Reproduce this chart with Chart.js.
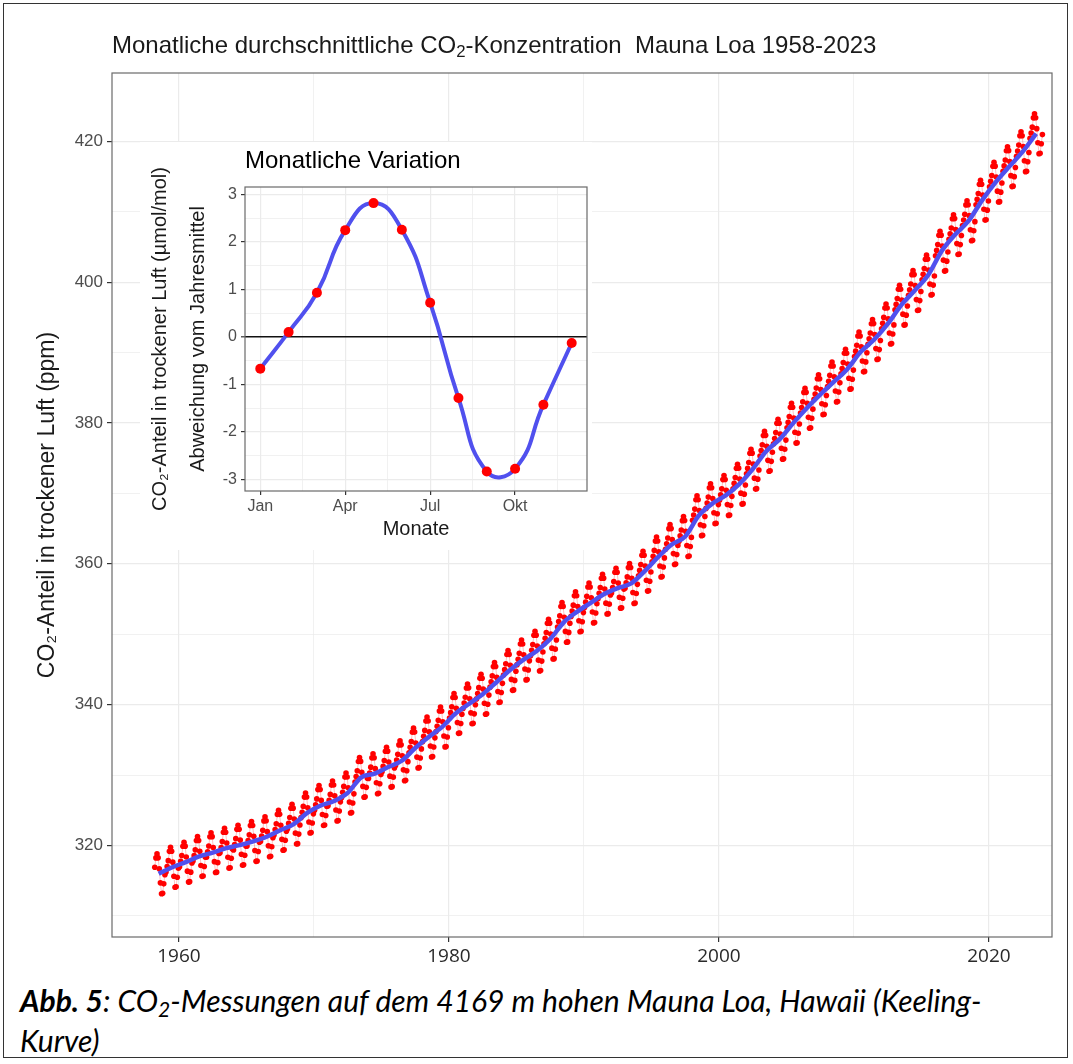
<!DOCTYPE html>
<html>
<head>
<meta charset="utf-8">
<script src="https://cdn.jsdelivr.net/npm/chart.js@4.4.1/dist/chart.umd.min.js"></script>
<style>
html,body{margin:0;padding:0;background:#fff;}
body{width:1073px;height:1064px;position:relative;overflow:hidden;font-family:"Liberation Sans",Arial,sans-serif;}
#frame{position:absolute;left:3px;top:3px;width:1065px;height:1055px;border:1px solid #333;box-sizing:border-box;}
#main{position:absolute;left:0;top:0;}
#title{position:absolute;left:112px;top:30px;font-size:24px;line-height:30px;color:#1a1a1a;white-space:nowrap;}
#insetWrap{position:absolute;left:140px;top:142px;width:452px;height:408px;background:#fff;}
#inset{position:absolute;left:0;top:0;}
#insetTitle{position:absolute;left:105px;top:4px;font-size:24px;line-height:28px;color:#000;white-space:nowrap;}
#caption{position:absolute;left:20px;top:980px;font-family:Lato,"Open Sans",sans-serif;font-style:italic;font-size:30px;line-height:40px;color:#000;white-space:nowrap;}
sub{font-size:0.7em;vertical-align:-0.25em;line-height:0;}
</style>
</head>
<body>
<div id="frame"></div>
<canvas id="main" width="1073" height="980"></canvas>
<div id="title">Monatliche durchschnittliche CO<sub>2</sub>-Konzentration&nbsp; Mauna Loa 1958-2023</div>
<div id="insetWrap">
  <canvas id="inset" width="452" height="408"></canvas>
  <div id="insetTitle">Monatliche Variation</div>
</div>
<div id="caption"><b>Abb. 5</b>: CO<sub>2</sub>-Messungen auf dem 4169 m hohen Mauna Loa, Hawaii (Keeling-<br>Kurve)</div>
<script>
// ---------- DATA ----------
const years = [1958,1959,1960,1961,1962,1963,1964,1965,1966,1967,1968,1969,1970,1971,1972,1973,1974,1975,1976,1977,1978,1979,1980,1981,1982,1983,1984,1985,1986,1987,1988,1989,1990,1991,1992,1993,1994,1995,1996,1997,1998,1999,2000,2001,2002,2003,2004,2005,2006,2007,2008,2009,2010,2011,2012,2013,2014,2015,2016,2017,2018,2019,2020,2021,2022,2023];
const annualMean = [315.98,316.91,317.64,318.45,318.99,319.62,320.04,320.58,321.24,322.16,323.04,324.62,325.68,326.32,327.46,329.68,330.19,331.13,332.03,333.84,335.41,336.84,338.76,340.12,341.48,343.15,344.87,346.35,347.61,349.31,351.69,353.20,354.45,355.70,356.54,357.21,358.96,360.97,362.74,363.88,366.84,368.54,369.71,371.32,373.45,375.98,377.70,379.98,382.09,384.02,385.83,387.64,390.10,391.85,394.06,396.74,398.81,401.01,404.41,406.76,408.72,411.65,414.21,416.41,418.53,421.08];
const monthNames = ['Jan','Feb','Mär','Apr','Mai','Jun','Jul','Aug','Sep','Okt','Nov','Dez'];
const monthlyDeviation = [-0.67,0.10,0.93,2.25,2.82,2.26,0.72,-1.29,-2.84,-2.78,-1.43,-0.13];
const firstMonth1958 = 3; // record begins in March 1958
const xTickLabels = [1960,1980,2000,2020];
const yTickLabels = [320,340,360,380,400,420];
const insetXTickLabels = {1:'Jan',4:'Apr',7:'Jul',10:'Okt'};
const insetYTickLabels = [-3,-2,-1,0,1,2,3];

// ---------- build series from the arrays ----------
const monthlyPts = [];
years.forEach((yr,i)=>{
  monthlyDeviation.forEach((d,m)=>{
    if (yr===1958 && m+1 < firstMonth1958) return;
    monthlyPts.push({x: yr + (m+0.5)/12, y: annualMean[i] + d});
  });
});
const trendPts = years.map((yr,i)=>({x: yr+0.5, y: annualMean[i]}));
const insetPts = monthlyDeviation.map((d,m)=>({x:m+1, y:d}));

Chart.defaults.font.family = '"Liberation Sans", Arial, sans-serif';

const GRID = '#ebebeb';
const BORDER = '#6a6a6a';
const panelBorder = {
  id:'panelBorder',
  afterDatasetsDraw(chart){
    const {ctx, chartArea:a} = chart;
    ctx.save(); ctx.strokeStyle = BORDER; ctx.lineWidth = 1.2;
    ctx.strokeRect(a.left, a.top, a.right-a.left, a.bottom-a.top);
    ctx.restore();
  }
};

// ---------- main chart ----------
new Chart(document.getElementById('main'), {
  type:'line',
  data:{datasets:[
    {label:'Trend', data:trendPts, borderColor:'#5050ee', borderWidth:4.5, pointRadius:0, cubicInterpolationMode:'monotone', fill:false},
    {label:'Monatsmittel', data:monthlyPts, borderColor:'rgba(255,0,0,0.25)', borderWidth:1, pointRadius:2.8, pointBackgroundColor:'#ff0000', pointBorderWidth:0, tension:0, fill:false}
  ]},
  options:{
    responsive:false, animation:false, events:[],
    layout:{padding:{left:28, top:73, right:21, bottom:0}},
    plugins:{legend:{display:false}, tooltip:{enabled:false}},
    scales:{
      x:{
        type:'linear', min:1955.04, max:2024.67,
        afterBuildTicks:s=>{ s.ticks = [1960,1970,1980,1990,2000,2010,2020].map(v=>({value:v})); },
        afterFit:s=>{ s.height = 43; },
        border:{display:false},
        grid:{
          color:c=>GRID,
          lineWidth:c=> (c.tick && xTickLabels.includes(c.tick.value)) ? 1.2 : 0.7,
          tickLength:5,
          tickColor:c=> (c.tick && xTickLabels.includes(c.tick.value)) ? '#333' : 'rgba(0,0,0,0)',
          tickWidth:1.2
        },
        ticks:{autoSkip:false, maxRotation:0, padding:3, color:'#2a2a2a', font:{family:'"Open Sans", sans-serif', size:19},
          callback:v=> xTickLabels.includes(v) ? String(v) : ''}
      },
      y:{
        type:'linear', min:307.0, max:429.7,
        afterBuildTicks:s=>{ const t=[]; for(let v=310; v<=420; v+=10) t.push({value:v}); s.ticks=t; },
        afterFit:s=>{ s.width = 84; },
        border:{display:false},
        grid:{
          color:c=>GRID,
          lineWidth:c=> (c.tick && yTickLabels.includes(c.tick.value)) ? 1.2 : 0.7,
          tickLength:5,
          tickColor:c=> (c.tick && yTickLabels.includes(c.tick.value)) ? '#333' : 'rgba(0,0,0,0)',
          tickWidth:1.2
        },
        ticks:{autoSkip:false, padding:4, color:'#4d4d4d', font:{size:17},
          callback:v=> yTickLabels.includes(v) ? String(v) : ''},
        title:{display:true, text:'CO₂-Anteil in trockener Luft (ppm)', color:'#1a1a1a', font:{size:23}, padding:{top:6,bottom:0}}
      }
    }
  },
  plugins:[panelBorder]
});

// ---------- inset chart ----------
new Chart(document.getElementById('inset'), {
  type:'line',
  data:{datasets:[
    {label:'Abweichung', data:insetPts, borderColor:'#5050ee', borderWidth:4, tension:0.5,
     pointRadius:5, pointBackgroundColor:'#ff0000', pointBorderWidth:0, fill:false}
  ]},
  options:{
    responsive:false, animation:false, events:[],
    layout:{padding:{left:0, top:45, right:5, bottom:0}},
    plugins:{legend:{display:false}, tooltip:{enabled:false}},
    scales:{
      x:{
        type:'linear', min:0.46, max:12.54,
        afterBuildTicks:s=>{ s.ticks=[1,2.5,4,5.5,7,8.5,10,11.5].map(v=>({value:v})); },
        afterFit:s=>{ s.height = 59; },
        border:{display:false},
        grid:{
          color:GRID,
          lineWidth:c=> (c.tick && insetXTickLabels[c.tick.value]) ? 1.2 : 0.7,
          tickLength:4,
          tickColor:c=> (c.tick && insetXTickLabels[c.tick.value]) ? '#333' : 'rgba(0,0,0,0)',
          tickWidth:1.2
        },
        ticks:{autoSkip:false, maxRotation:0, padding:2, color:'#4d4d4d', font:{size:16},
          callback:v=> insetXTickLabels[v] || ''},
        title:{display:true, text:'Monate', color:'#1a1a1a', font:{size:20}, padding:{top:0,bottom:9}}
      },
      y:{
        type:'linear', min:-3.25, max:3.16,
        afterBuildTicks:s=>{ const t=[]; for(let v=-3; v<=3.001; v+=0.5) t.push({value:Math.round(v*10)/10}); s.ticks=t; },
        afterFit:s=>{ s.width = 105; },
        border:{display:false},
        grid:{
          color:c=> (c.tick && c.tick.value===0) ? '#111' : GRID,
          lineWidth:c=> (c.tick && c.tick.value===0) ? 1.6 : ((c.tick && Number.isInteger(c.tick.value)) ? 1.2 : 0.7),
          tickLength:4,
          tickColor:c=> (c.tick && Number.isInteger(c.tick.value)) ? '#333' : 'rgba(0,0,0,0)',
          tickWidth:1.2
        },
        ticks:{autoSkip:false, padding:4, color:'#4d4d4d', font:{size:16},
          callback:v=> insetYTickLabels.includes(v) ? String(v) : ''},
        title:{display:true, text:['CO₂-Anteil in trockener Luft (µmol/mol)','Abweichung vom Jahresmittel'], color:'#1a1a1a',
          font:{size:20, lineHeight:1.9}, padding:{top:1,bottom:0}}
      }
    }
  },
  plugins:[panelBorder]
});
</script>
</body>
</html>
